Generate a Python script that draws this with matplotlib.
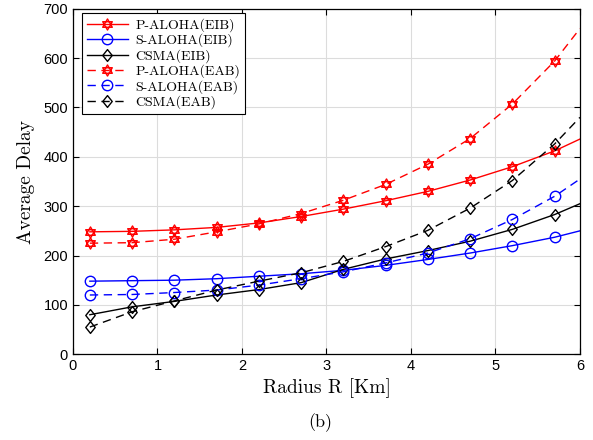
import numpy as np
import matplotlib.pyplot as plt
from matplotlib.path import Path

# radius values where markers sit, plus the end point of each curve
radius = [0.2, 0.7, 1.2, 1.7, 2.2, 2.7, 3.2, 3.7, 4.2, 4.7, 5.2, 5.7, 6.0]

p_aloha_eib = [248, 249, 252, 257, 266, 279, 294, 311, 330, 353, 380, 412, 436]
s_aloha_eib = [148, 149, 150, 153, 158, 163, 170, 180, 192, 205, 220, 237, 250]
csma_eib = [80, 96, 107, 120, 131, 145, 172, 193, 210, 229, 253, 283, 305]
p_aloha_eab = [225, 226, 233, 248, 264, 285, 312, 344, 385, 437, 507, 594, 660]
s_aloha_eab = [120, 121, 125, 130, 140, 153, 167, 185, 205, 234, 273, 320, 355]
csma_eab = [55, 86, 108, 130, 148, 165, 188, 218, 251, 296, 352, 426, 480]

labels = ['P-ALOHA(EIB)', 'S-ALOHA(EIB)', 'CSMA(EIB)',
          'P-ALOHA(EAB)', 'S-ALOHA(EAB)', 'CSMA(EAB)']


def hexagram():
    # two overlapping triangles, like MATLAB's 'h' marker
    a = np.deg2rad([90, 210, 330, 90])
    b = np.deg2rad([270, 30, 150, 270])
    up = Path(np.column_stack([np.cos(a), np.sin(a)]), closed=True)
    down = Path(np.column_stack([np.cos(b), np.sin(b)]), closed=True)
    return Path.make_compound_path(up, down)


hexa = hexagram()
diamond = Path([(0, 1), (0.8, 0), (0, -1), (-0.8, 0), (0, 1)], closed=True)

fig = plt.figure(figsize=(5.93, 4.40), dpi=100)
ax = fig.add_axes([0.123, 0.195, 0.855, 0.785])

dash = (0, (6, 4))
series = [
    (p_aloha_eib, 'red', '-', hexa, 8),
    (s_aloha_eib, 'blue', '-', 'o', 7.5),
    (csma_eib, 'black', '-', diamond, 8.5),
    (p_aloha_eab, 'red', dash, hexa, 8),
    (s_aloha_eab, 'blue', dash, 'o', 7.5),
    (csma_eab, 'black', dash, diamond, 8.5),
]

n_mark = len(radius) - 1
for (vals, col, ls, mk, ms), lab in zip(series, labels):
    ax.plot(radius, vals, color=col, linestyle=ls, linewidth=1.0,
            marker=mk, markersize=ms, markerfacecolor='none',
            markeredgecolor=col, markeredgewidth=1.0,
            markevery=list(range(n_mark)), label=lab)

ax.set_xlim(0, 6)
ax.set_ylim(0, 700)
ax.set_xticks(range(0, 7))
ax.set_yticks(range(0, 701, 100))
ax.grid(True, color='#dcdcdc', linewidth=0.8)
ax.set_axisbelow(True)
ax.tick_params(direction='in', top=True, right=True, labelsize=10.5, length=4)
for lab in ax.get_xticklabels() + ax.get_yticklabels():
    lab.set_family('Liberation Sans')
for sp in ax.spines.values():
    sp.set_linewidth(0.9)

ax.set_xlabel('Radius R [Km]', family='cmr10', fontsize=14, labelpad=4)
ax.set_ylabel('Average Delay', family='cmr10', fontsize=14, labelpad=6)

leg = ax.legend(loc='upper left', bbox_to_anchor=(0.012, 0.995),
                prop={'family': 'cmr10', 'size': 10},
                fancybox=False, edgecolor='black', framealpha=1,
                borderaxespad=0.2, handlelength=3.0, labelspacing=0.12,
                borderpad=0.35, handletextpad=0.5)
leg.get_frame().set_linewidth(0.8)

fig.text(0.54, 0.03, '(b)', family='cmr10', fontsize=13, ha='center')

fig.savefig('out.png', dpi=100)
